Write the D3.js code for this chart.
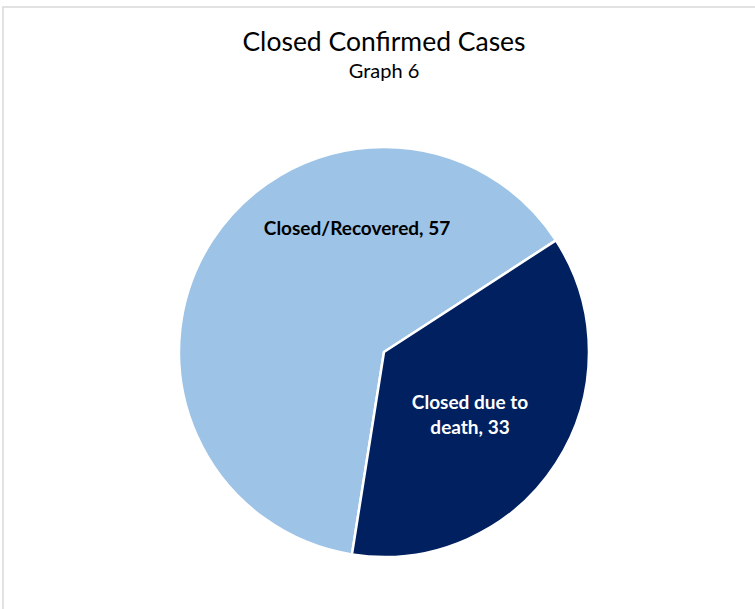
<!DOCTYPE html>
<html>
<head>
<meta charset="utf-8">
<script src="https://cdn.jsdelivr.net/npm/d3@7"></script>
<style>
  body { margin: 0; background: #fff; }
  text { font-family: Lato, "Open Sans", sans-serif; }
</style>
</head>
<body>
<div id="vis"></div>
<script>
const categories = ["Closed/Recovered", "Closed due to death"];
const values = [57, 33];
const colors = ["#9dc3e6", "#002060"];
const labelLines = [["Closed/Recovered, 57"], ["Closed due to", "death, 33"]];

const width = 755, height = 609;
const cx = 384, cy = 352, radius = 205;

const svg = d3.select("#vis")
    .append("svg")
    .attr("width", width)
    .attr("height", height);

// chart frame, cut off at the right and bottom
svg.append("path")
    .attr("d", `M3,${height} V7 H${width}`)
    .attr("fill", "none")
    .attr("stroke", "#d9d9d9")
    .attr("stroke-width", 1.5);

svg.append("text")
    .attr("x", 384).attr("y", 51)
    .attr("text-anchor", "middle")
    .attr("font-size", 26.5)
    .attr("fill", "#000")
    .text("Closed Confirmed Cases");

svg.append("text")
    .attr("x", 384).attr("y", 78)
    .attr("text-anchor", "middle")
    .attr("font-size", 20)
    .attr("fill", "#000")
    .text("Graph 6");

const data = categories.map((c, i) => ({name: c, value: values[i], lines: labelLines[i], color: colors[i]}));

// first slice starts a little past 6 o'clock, as in the original
const pie = d3.pie().value(d => d.value).sort(null)
    .startAngle(189 * Math.PI / 180)
    .endAngle((189 + 360) * Math.PI / 180);

const arc = d3.arc().innerRadius(0).outerRadius(radius);

const g = svg.append("g").attr("transform", `translate(${cx},${cy})`);

const arcs = pie(data);

g.selectAll("path.slice")
    .data(arcs)
    .join("path")
    .attr("class", "slice")
    .attr("d", arc)
    .attr("fill", d => d.data.color)
    .attr("stroke", "#fff")
    .attr("stroke-width", 2.5)
    .attr("stroke-linejoin", "round");

const labelPos = [[-27, -117], [86, 57]];

g.selectAll("text.lbl")
    .data(arcs)
    .join("text")
    .attr("class", "lbl")
    .attr("text-anchor", "middle")
    .attr("font-weight", "bold")
    .attr("font-size", 19)
    .attr("fill", (d, i) => i === 0 ? "#000" : "#fff")
    .attr("transform", (d, i) => `translate(${labelPos[i][0]},${labelPos[i][1]})`)
    .each(function(d) {
        const t = d3.select(this);
        d.data.lines.forEach((l, j) => {
            t.append("tspan").attr("x", 0).attr("dy", j === 0 ? 0 : 25).text(l);
        });
    });
</script>
</body>
</html>
